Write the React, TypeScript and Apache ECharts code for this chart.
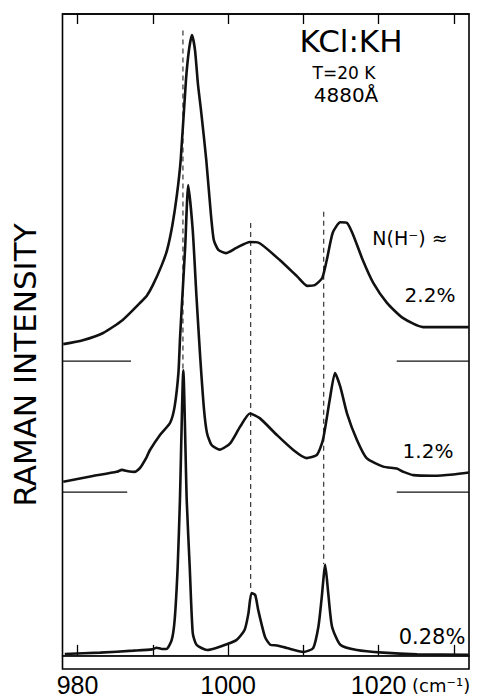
import React, { useEffect, useRef } from 'react';
import * as echarts from 'echarts';

// ---- axis ----
const AXIS_MIN = 978;
const AXIS_MAX = 1032;
const TICK_VALUES = [980, 990, 1000, 1010, 1020, 1030];
const TICK_LABELS = [980, 1000, 1020];
const Y_MIN = -2;
const Y_MAX = 98;

// ---- spectra (wavenumber cm^-1, intensity above own baseline, arb. units) ----
const SPECTRA_NAMES = ['2.2%', '1.2%', '0.28%'];
const OFFSETS = [45, 25, 0];

const wn22 = [978.1, 980.7, 983.4, 986.0, 988.3, 989.2, 990.0, 991.2, 991.9, 992.6, 993.2, 993.7, 994.4, 994.8, 995.2, 995.6, 996.0, 996.4, 997.1, 997.7, 998.1, 998.7, 999.7, 1001.1, 1002.9, 1004.2, 1006.9, 1009.2, 1010.5, 1011.5, 1012.5, 1013.1, 1013.9, 1014.9, 1015.8, 1016.6, 1017.9, 1019.3, 1021.1, 1023.2, 1025.9, 1029.1, 1032.0];
const int22 = [2.6, 3.2, 4.3, 6.3, 8.9, 10.0, 11.6, 14.7, 17.0, 20.8, 25.4, 30.7, 42.9, 47.5, 49.8, 47.5, 42.2, 38.3, 30.7, 22.6, 18.5, 17.0, 16.5, 17.3, 18.2, 18.0, 15.4, 12.9, 11.5, 11.6, 12.7, 15.4, 19.6, 21.2, 21.1, 19.3, 15.4, 11.9, 8.9, 6.6, 5.2, 5.2, 5.2];

const wn12 = [978.1, 981.7, 985.2, 985.9, 986.7, 987.6, 988.3, 989.2, 989.6, 991.0, 992.3, 992.9, 993.4, 993.6, 993.8, 994.3, 994.7, 995.3, 995.8, 996.3, 996.8, 997.2, 997.8, 998.9, 1000.3, 1001.6, 1002.9, 1004.2, 1006.5, 1008.7, 1010.4, 1011.8, 1012.6, 1013.5, 1014.2, 1014.9, 1015.8, 1017.1, 1018.4, 1020.6, 1022.4, 1023.3, 1024.6, 1027.3, 1029.9, 1032.0];
const int12 = [1.6, 2.4, 3.1, 3.4, 3.2, 3.1, 3.7, 5.4, 6.4, 8.8, 10.6, 13.1, 18.2, 23.2, 27.4, 37.5, 46.9, 40.0, 29.8, 20.5, 12.6, 9.0, 7.2, 6.5, 7.5, 10.0, 12.0, 11.3, 8.7, 6.4, 5.2, 5.7, 8.0, 14.1, 18.2, 16.1, 12.0, 8.0, 5.2, 3.9, 3.6, 3.1, 2.6, 2.5, 2.7, 3.0];

const wn028 = [978.3, 983.0, 987.4, 989.9, 990.5, 991.2, 991.8, 992.5, 992.9, 993.3, 993.6, 994.05, 994.5, 994.9, 995.3, 995.8, 997.2, 998.9, 1001.1, 1002.2, 1002.7, 1003.1, 1003.6, 1004.0, 1004.9, 1005.6, 1006.5, 1007.8, 1010.0, 1011.3, 1012.0, 1012.4, 1012.9, 1013.3, 1013.8, 1014.9, 1017.1, 1020.6, 1025.1, 1032.0];
const int028 = [0.3, 0.5, 0.8, 1.0, 1.25, 1.05, 1.05, 2.4, 5.5, 13.6, 23.8, 43.6, 23.8, 13.6, 3.5, 1.7, 0.9, 1.4, 2.4, 4.0, 6.5, 9.6, 9.3, 7.0, 2.9, 1.7, 1.6, 1.2, 0.6, 1.2, 4.5, 8.5, 13.9, 9.6, 4.5, 1.7, 0.9, 0.5, 0.25, 0.15];

const SPECTRA_X = [wn22, wn12, wn028];
const SPECTRA_Y = [int22, int12, int028];

// ---- dashed peak-position lines ----
const PEAK_POS = [994.0, 1003.0, 1012.7];
const PEAK_TOP = [95.5, 66.1, 67.8];
const PEAK_BOTTOM = [43.6, 9.8, 14.0];

// ---- baseline (zero-level) markers: [from, to, level] ----
const BASELINES: [number, number, number][] = [
  [978, 987.1, 45],
  [1022.4, 1032, 45],
  [978, 986.6, 25],
  [1022.4, 1032, 25],
  [978, 1032, 0],
];

const TITLE = 'KCl:KH';
const SUB1 = 'T=20 K';
const SUB2 = '4880Å';
const CONC_HEAD = 'N(H⁻) ≈';
const Y_NAME = 'RAMAN INTENSITY';
const X_UNIT = '(cm⁻¹)';

export default function App() {
  const ref = useRef<HTMLDivElement>(null);
  useEffect(() => {
    document.body.style.margin = '0';
    const chart = echarts.init(ref.current!, null, { renderer: 'svg' });
    const ink = '#111';
    const series: any[] = [];
    SPECTRA_NAMES.forEach((name, k) => {
      series.push({
        type: 'line',
        name,
        data: SPECTRA_X[k].map((x, i) => [x, SPECTRA_Y[k][i] + OFFSETS[k]]),
        showSymbol: false,
        smooth: 0.2,
        lineStyle: { color: ink, width: 2.6 },
        z: 4,
      });
    });
    PEAK_POS.forEach((p, k) => {
      series.push({
        type: 'line',
        data: [[p, PEAK_TOP[k]], [p, PEAK_BOTTOM[k]]],
        showSymbol: false,
        lineStyle: { color: '#222', width: 1.1, type: [5, 4] },
        z: 3,
      });
    });
    BASELINES.forEach(([a, b, lv]) => {
      series.push({
        type: 'line',
        data: [[a, lv], [b, lv]],
        showSymbol: false,
        lineStyle: { color: ink, width: 1.4 },
        z: 3,
      });
    });

    const txt = (text: string, x: number, y: number, size: number, extra: any = {}) => ({
      type: 'text',
      x,
      y,
      ...extra,
      style: {
        text,
        fill: '#000',
        font: `${size}px "DejaVu Sans"`,
        textAlign: 'center',
        textVerticalAlign: 'middle',
        ...(extra.style || {}),
      },
    });

    chart.setOption({
      animation: false,
      backgroundColor: '#fff',
      grid: {
        left: 62.5,
        right: 10,
        top: 14,
        bottom: 31,
        show: true,
        borderColor: '#000',
        borderWidth: 1.6,
        containLabel: false,
        outerBoundsMode: 'none',
      },
      xAxis: [
        {
          type: 'value',
          min: AXIS_MIN,
          max: AXIS_MAX,
          position: 'bottom',
          axisLine: { show: true, lineStyle: { color: '#000', width: 1.6 } },
          axisTick: {
            show: true,
            inside: true,
            length: 11,
            customValues: TICK_VALUES,
            lineStyle: { color: '#000', width: 1.3 },
          },
          axisLabel: {
            show: true,
            customValues: TICK_LABELS,
            formatter: (v: number) => String(v),
            color: '#000',
            fontSize: 25,
            fontFamily: 'Liberation Sans',
            margin: 3,
          },
          splitLine: { show: false },
        },
        {
          type: 'value',
          min: AXIS_MIN,
          max: AXIS_MAX,
          position: 'top',
          axisLine: { show: true, lineStyle: { color: '#000', width: 1.6 } },
          axisTick: {
            show: true,
            inside: true,
            length: 10,
            customValues: TICK_VALUES,
            lineStyle: { color: '#000', width: 1.3 },
          },
          axisLabel: { show: false },
          splitLine: { show: false },
        },
      ],
      yAxis: {
        type: 'value',
        min: Y_MIN,
        max: Y_MAX,
        show: false,
        splitLine: { show: false },
      },
      series,
      graphic: [
        txt(Y_NAME, 25, 365, 31, { rotation: Math.PI / 2 }),
        txt(TITLE, 351, 41, 31),
        txt(SUB1, 344, 73, 17),
        txt(SUB2, 346, 95, 20),
        txt(CONC_HEAD, 410, 238, 19),
        txt(SPECTRA_NAMES[0], 430, 295, 20),
        txt(SPECTRA_NAMES[1], 428, 451, 20),
        txt(SPECTRA_NAMES[2], 432, 637, 21),
        txt(X_UNIT, 412, 685, 18, { style: { textAlign: 'left' } }),
      ],
    });
    return () => chart.dispose();
  }, []);
  return <div ref={ref} style={{ width: 479, height: 700 }} />;
}
